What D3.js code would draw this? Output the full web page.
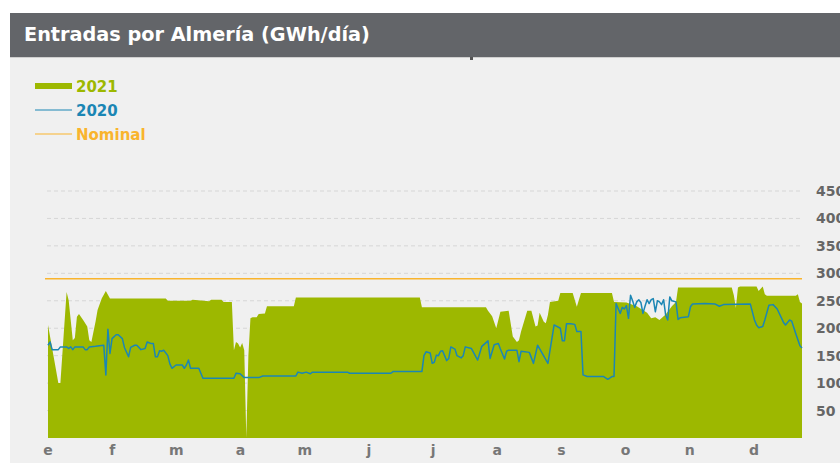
<!DOCTYPE html>
<html><head><meta charset="utf-8">
<script src="https://cdn.jsdelivr.net/npm/d3@7"></script>
<style>
html,body{margin:0;padding:0;background:#fff;}
svg{display:block;}
text{font-family:"DejaVu Sans",Verdana,sans-serif;font-weight:bold;}
</style></head>
<body>
<svg id="c" width="840" height="463"></svg>
<script>
// ---- data ----
const title = "Entradas por Almería (GWh/día)";
const monthLabels = ["e","f","m","a","m","j","j","a","s","o","n","d"];
const yTicks = [50,100,150,200,250,300,350,400,450];
const nominal = 290;
const legendLabels = ["2021","2020","Nominal"];

// 2021 (area): day of year -> GWh/día
const days2021 = [0,5,6,9,10,12,13,14,15,17,19,20,21,23,24,26,28,30,57,58,69,70,78,79,84,85,89,90,91,92,93,94,95,96,97,98,99,101,102,105,106,119,120,180,181,212,213,215,217,219,223,225,227,228,229,232,234,236,237,238,240,241,242,243,247,248,254,256,258,273,274,280,285,290,292,294,296,299,302,304,305,331,332,333,334,335,343,344,346,347,348,362,363,364,365];
const values2021 = [206,100,100,266,251,178,182,221,226,215,203,178,175,212,233,254,268,254,254,250,250,252,249,252,252,248,248,160,175,172,165,173,160,0,150,218,220,220,226,227,240,240,256,256,238,238,232,222,200,230,232,185,175,178,194,232,232,203,205,228,212,209,224,248,250,264,264,239,264,264,248,247,240,228,218,220,215,225,240,248,274,274,260,237,274,276,276,268,276,262,259,259,262,248,245];

// 2020 (line)
const days2020 = [0,1,2,5,6,9,10,11,12,13,17,18,19,20,23,27,28,29,30,31,33,34,36,37,39,40,42,43,45,47,48,50,51,52,53,54,55,56,57,58,59,60,62,65,66,67,68,69,73,74,75,90,91,93,95,102,104,120,121,123,125,127,128,145,146,166,167,181,182,183,185,186,187,188,189,190,191,193,194,195,197,198,200,201,202,205,208,210,213,214,216,218,219,221,222,223,227,228,229,233,235,237,242,245,248,249,250,251,253,255,256,258,259,261,269,271,273,274,275,276,277,278,279,280,281,282,283,284,285,286,287,288,289,290,291,292,293,294,295,296,297,298,299,300,301,302,304,305,306,310,311,312,318,323,325,327,340,342,343,344,346,347,349,351,353,356,357,359,360,362,364,365];
const values2020 = [169,175,161,161,166,166,163,166,161,166,166,161,161,166,167,169,115,198,154,181,188,188,181,165,148,165,169,169,161,163,175,172,172,148,148,159,158,160,155,150,135,127,133,133,127,133,142,127,127,118,109,109,118,117,110,110,113,113,120,118,120,117,120,120,118,118,121,121,150,157,155,136,138,151,150,158,159,141,145,166,162,150,146,150,166,163,142,167,177,145,170,172,162,144,158,160,160,139,158,156,136,169,136,206,200,177,177,208,208,207,194,194,115,112,112,107,112,112,245,236,227,238,235,241,218,260,250,238,248,252,247,227,240,252,245,252,254,230,250,248,243,252,224,215,257,250,248,216,219,221,239,244,245,244,240,243,244,215,206,201,203,215,242,243,235,211,206,215,213,190,168,164];

const colors = {green:"#9db800", blue:"#1b86b4", orange:"#f9b42d", header:"#636569", panel:"#f0f0f0"};

// ---- drawing ----
const svg = d3.select("#c");
svg.append("rect").attr("x",10).attr("y",13).attr("width",830).attr("height",450).attr("fill",colors.panel);
svg.append("rect").attr("x",10).attr("y",13).attr("width",830).attr("height",44).attr("fill",colors.header);
svg.append("rect").attr("x",10).attr("y",57).attr("width",830).attr("height",1).attr("fill","#cfcfcf");
svg.append("rect").attr("x",470).attr("y",57).attr("width",3).attr("height",3).attr("fill","#555");

const t = svg.append("text").attr("x",24).attr("y",41).attr("fill","#fff").attr("font-size",16).text(title);
const w = t.node().getComputedTextLength();
t.attr("font-size", 16*346/w);

const x = d3.scaleLinear().domain([0,365]).range([48,802]);
const y = d3.scaleLinear().domain([0,450]).range([438,191]);
const xm = d3.scalePoint().domain(d3.range(12)).range([48,754]);

// grid
svg.append("g").selectAll("line").data(yTicks).join("line")
  .attr("x1",47).attr("x2",802).attr("y1",d=>y(d)).attr("y2",d=>y(d))
  .attr("stroke","#d6d6d6").attr("stroke-dasharray","4,3").attr("stroke-width",1);

// y labels
svg.append("g").selectAll("text").data(yTicks).join("text")
  .attr("x",816).attr("y",d=>y(d)).attr("dy","0.36em").attr("font-size",14).attr("fill","#666")
  .text(d=>d);

// area 2021
const a21 = days2021.map((d,i)=>({d, v:values2021[i]}));
svg.append("path").datum(a21).attr("fill",colors.green)
  .attr("d", d3.area().x(p=>x(p.d)).y0(y(0)).y1(p=>y(p.v)));

// nominal
svg.append("line").attr("x1",45).attr("x2",802).attr("y1",y(nominal)).attr("y2",y(nominal))
  .attr("stroke",colors.orange).attr("stroke-width",1.5);

// 2020 line
const l20 = days2020.map((d,i)=>({d, v:values2020[i]}));
svg.append("path").datum(l20).attr("fill","none").attr("stroke",colors.blue).attr("stroke-width",1.5)
  .attr("stroke-linejoin","round")
  .attr("d", d3.line().x(p=>x(p.d)).y(p=>y(p.v)));

// x labels
svg.append("g").selectAll("text").data(monthLabels).join("text")
  .attr("x",(d,i)=>xm(i)).attr("y",455).attr("text-anchor","middle").attr("font-size",14).attr("fill","#777")
  .text(d=>d);

// legend
const lg = svg.append("g");
const lc = [colors.green, colors.blue, colors.orange];
legendLabels.forEach((lab,i)=>{
  const yy = 86 + i*24;
  if(i===0) lg.append("rect").attr("x",35).attr("y",yy-3).attr("width",37).attr("height",6).attr("fill",lc[i]);
  else lg.append("line").attr("x1",35).attr("x2",72).attr("y1",yy).attr("y2",yy).attr("stroke",lc[i]).attr("stroke-width",1.2);
  lg.append("text").attr("x",76).attr("y",yy+5.5).attr("font-size",15).attr("fill",lc[i]).text(lab);
});
</script>
</body></html>
